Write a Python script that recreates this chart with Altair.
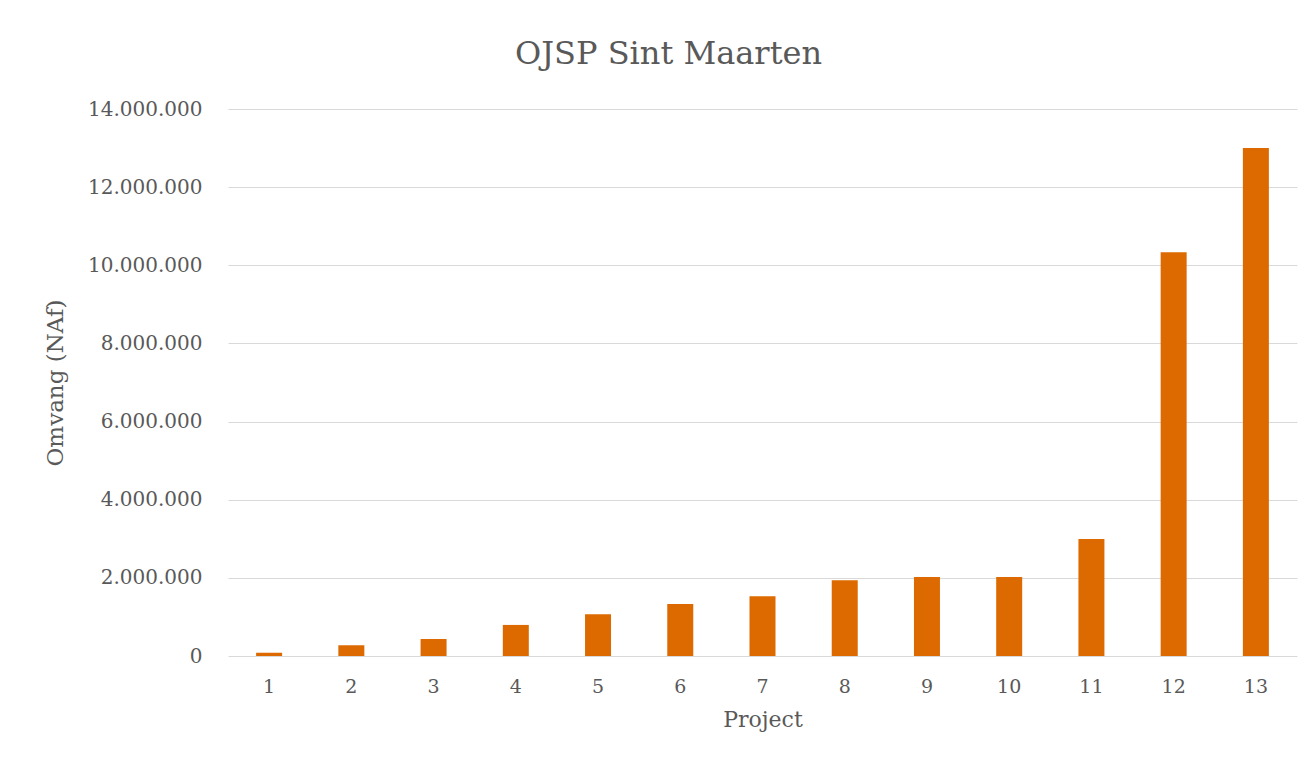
import altair as alt
import pandas as pd

projects = [str(i) for i in range(1, 14)]
values = [80000, 275000, 435000, 795000, 1067000, 1330000, 1528000,
          1937000, 2022000, 2025000, 2995000, 10333000, 13000000]

df = pd.DataFrame({"Project": projects, "Omvang": values})

FONT = "DejaVu Serif"
TXT = "#595959"

chart = alt.Chart(df).mark_bar(color="#DD6A00", size=26).encode(
    x=alt.X("Project:O", sort=projects, title="Project",
            axis=alt.Axis(labelAngle=0, ticks=False, domain=False,
                          labelFont=FONT, labelFontSize=19, labelColor=TXT,
                          labelPadding=21, titleFont=FONT, titleFontSize=22,
                          titleFontWeight="normal", titleColor=TXT, titlePadding=13)),
    y=alt.Y("Omvang:Q", title="Omvang (NAf)",
            scale=alt.Scale(domain=[0, 14000000]),
            axis=alt.Axis(values=[0, 2000000, 4000000, 6000000, 8000000, 10000000, 12000000, 14000000],
                          labelExpr="replace(replace(format(datum.value, ','), ',', '.'), ',', '.')",
                          ticks=False, domain=False, grid=True, gridColor="#D9D9D9",
                          labelFont=FONT, labelFontSize=20, labelColor=TXT, labelPadding=26,
                          titleFont=FONT, titleFontSize=23, titleFontWeight="normal",
                          titleColor=TXT, titlePadding=20)),
).properties(
    width=1069, height=547,
    title=alt.TitleParams("OJSP Sint Maarten", font=FONT, fontSize=32,
                          fontWeight="normal", color=TXT, anchor="middle", dx=-94, offset=28),
    autosize=alt.AutoSizeParams(type="none"),
    padding={"left": 220, "top": 101, "right": 7, "bottom": 96},
).configure(background="white").configure_view(stroke=None)

chart.save("out.html", embed_options={"renderer": "svg", "actions": False})
